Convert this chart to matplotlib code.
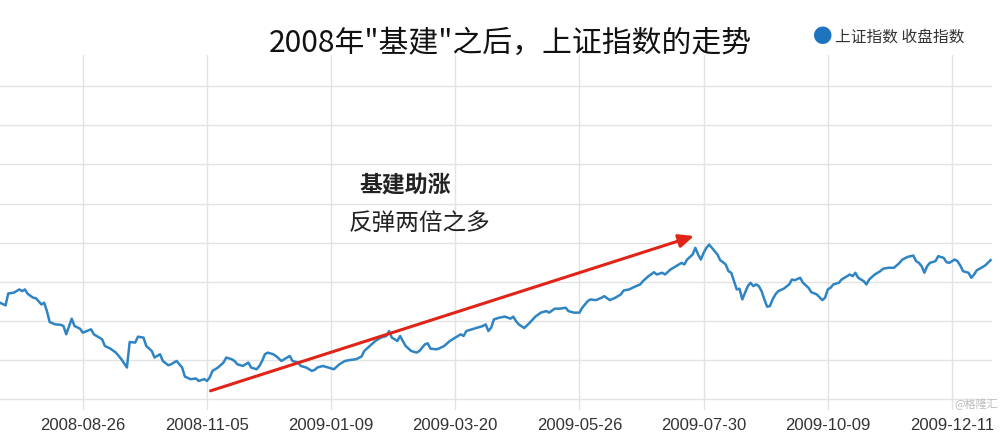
import matplotlib.pyplot as plt
import numpy as np

plt.rcParams['font.family'] = ['Noto Sans CJK SC', 'DejaVu Sans']

# trading day number (0 = 2008-08-26) and SSE close
days = [-30, -28, -27, -25, -23, -22, -21, -20, -18, -17, -15, -14, -13, -12, -10, -8, -7, -6, -4, -3,
        -1, 0, 3, 4, 7, 8, 10, 12, 14, 16, 17, 19, 20, 22, 23, 25, 26, 28, 29, 31,
        32, 34, 36, 37, 39, 41, 42, 44, 45, 46, 47, 49, 51, 52, 54, 55, 56, 58, 60, 61,
        63, 64, 65, 66, 67, 69, 70, 72, 73, 75, 76, 78, 79, 81, 82, 83, 84, 85, 87, 89,
        91, 93, 95, 97, 99, 101, 102, 104, 106, 108, 110, 111, 112, 113, 114, 115, 116, 117, 119, 121,
        122, 124, 125, 126, 128, 129, 131, 133, 135, 137, 138, 139, 141, 143, 145, 146, 147, 148, 149, 151,
        153, 155, 156, 157, 158, 160, 162, 164, 166, 168, 169, 171, 173, 175, 176, 178, 180, 181, 183, 184,
        186, 188, 189, 191, 193, 195, 196, 198, 200, 202, 203, 205, 207, 208, 210, 211, 213, 215, 217, 218,
        219, 221, 222, 223, 224, 225, 226, 227, 228, 230, 231, 232, 233, 234, 235, 236, 237, 238, 239, 240,
        241, 242, 243, 244, 245, 246, 247, 248, 249, 250, 251, 252, 254, 256, 257, 258, 260, 261, 263, 264,
        266, 268, 269, 270, 271, 272, 274, 275, 277, 278, 279, 280, 281, 283, 284, 285, 287, 289, 290, 292,
        294, 296, 297, 299, 301, 302, 303, 304, 305, 306, 307, 309, 310, 312, 313, 314, 316, 317, 318, 319,
        321, 322, 323, 324, 325, 327, 329]
close = [2732, 2698, 2851, 2860, 2902, 2880, 2902, 2847, 2796, 2790, 2710, 2732, 2625, 2485, 2455, 2450, 2434, 2328, 2528, 2434,
         2400, 2349, 2392, 2328, 2264, 2179, 2145, 2094, 2009, 1903, 2230, 2222, 2298, 2286, 2179, 2115, 2031, 2073, 1987, 1932,
         1945, 1987, 1903, 1788, 1754, 1763, 1732, 1754, 1732, 1776, 1860, 1903, 1967, 2031, 2009, 1987, 1945, 1923, 1967, 1903,
         1881, 1923, 1987, 2073, 2094, 2073, 2051, 1987, 2009, 2051, 1987, 1967, 1923, 1903, 1881, 1860, 1872, 1903, 1923, 1903,
         1881, 1945, 1987, 2000, 2009, 2043, 2115, 2179, 2242, 2286, 2306, 2370, 2286, 2264, 2242, 2306, 2242, 2179, 2115, 2094,
         2115, 2200, 2213, 2145, 2136, 2145, 2179, 2242, 2286, 2328, 2306, 2370, 2392, 2413, 2434, 2455, 2370, 2413, 2519, 2541,
         2554, 2528, 2554, 2497, 2455, 2408, 2477, 2554, 2605, 2625, 2605, 2656, 2656, 2668, 2625, 2605, 2605, 2668, 2753, 2774,
         2765, 2796, 2816, 2765, 2796, 2838, 2889, 2902, 2936, 2966, 3008, 3071, 3122, 3093, 3115, 3093, 3157, 3199, 3242, 3221,
         3284, 3348, 3434, 3348, 3284, 3370, 3434, 3476, 3434, 3348, 3276, 3250, 3221, 3135, 3115, 3008, 2902, 2911, 2774, 2860,
         2944, 2987, 2944, 2966, 2944, 2880, 2774, 2681, 2689, 2774, 2838, 2880, 2911, 2966, 3029, 3020, 3051, 2987, 2923, 2867,
         2838, 2765, 2796, 2902, 2923, 2966, 2987, 3029, 3071, 3093, 3071, 3115, 3051, 3008, 2966, 3029, 3093, 3135, 3166, 3179,
         3179, 3242, 3284, 3319, 3335, 3263, 3242, 3199, 3115, 3199, 3242, 3263, 3327, 3306, 3250, 3242, 3284, 3263, 3208, 3135,
         3115, 3051, 3093, 3148, 3166, 3208, 3277]

tick_days = [0, 45, 90, 135, 180, 225, 270, 315]
tick_labels = ['2008-08-26', '2008-11-05', '2009-01-09', '2009-03-20',
               '2009-05-26', '2009-07-30', '2009-10-09', '2009-12-11']
y_grid = [1500, 2000, 2500, 3000, 3500, 4000, 4500, 5000, 5500]

fig = plt.figure(figsize=(10, 4.36), dpi=100)
ax = fig.add_axes([0, 26 / 436, 992 / 1000, 355 / 436])

ax.plot(days, close, color='#2f84c4', lw=1.8, zorder=3)

ax.set_xlim(-30, 329.5)
ax.set_ylim(1360, 5900)
ax.set_xticks(tick_days)
ax.set_xticklabels(tick_labels, fontsize=12, color='#333333', family=['Liberation Sans'])
ax.set_yticks(y_grid)
ax.set_yticklabels([])
ax.tick_params(length=0, pad=6)
ax.grid(True, color='#e3e3e3', lw=1)
for s in ax.spines.values():
    s.set_visible(False)

# red trend arrow
ax.annotate('', xy=(221.5, 3585), xytext=(46.3, 1605),
            arrowprops=dict(arrowstyle='-|>,head_length=0.9,head_width=0.4',
                            color='#e02418', lw=2.2, shrinkA=0, shrinkB=0), zorder=4)
ax.text(117, 4240, '基建助涨', fontsize=16.5, color='#222222', ha='center', va='center', weight='bold')
ax.text(122, 3750, '反弹两倍之多', fontsize=17, color='#222222', ha='center', va='center')

fig.text(0.51, 0.9, '2008年"基建"之后，上证指数的走势', fontsize=21.5, color='#111111',
         ha='center', va='center')
fig.text(0.823, 0.915, '●', fontsize=14, color='#1f74c0', ha='center', va='center')
fig.text(0.835, 0.915, '上证指数 收盘指数', fontsize=11.3, color='#333333', ha='left', va='center')
fig.text(0.998, 0.072, '@格隆汇', fontsize=8, color='#bbbbbb', ha='right', va='center')

fig.savefig('out.png', dpi=100)
